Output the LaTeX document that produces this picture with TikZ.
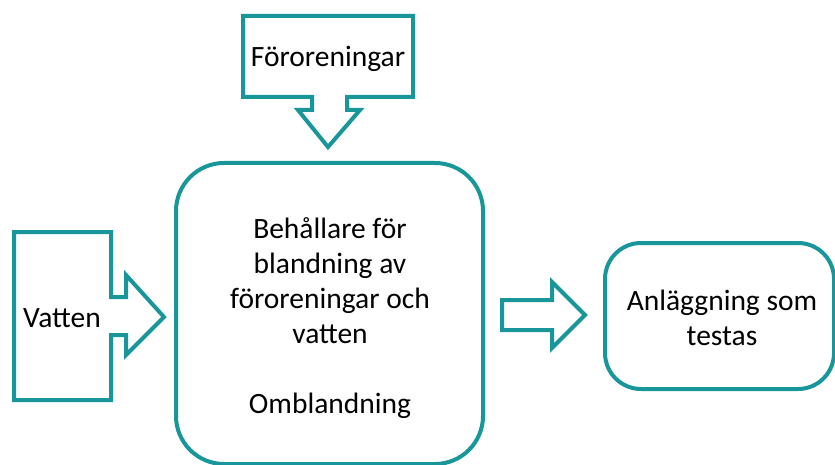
\documentclass[tikz,border=0pt]{standalone}
\usepackage{fontspec}
\setmainfont{Carlito}
\definecolor{teal1}{HTML}{18969A}
\begin{document}
\begin{tikzpicture}[x=1pt,y=-1pt,
  outl/.style={draw=teal1,line width=4pt,line join=miter,fill=white},
  lbl/.style={font=\fontsize{29.5}{35}\selectfont,align=center,text=black,inner sep=0pt},
  roundbox/.style={outl,rounded corners=#1}]
\useasboundingbox (0,0) rectangle (835,465);
\clip (0,0) rectangle (835,465);
% central container
\draw[roundbox=48pt] (176,163) rectangle (483,464);
\node[lbl] (mix) at (330,318) {Behållare för\\blandning av\\föroreningar och\\vatten\\[35pt]Omblandning};
% Vatten callout
\draw[outl] (14,232) -- (111,232) -- (111,297) -- (126,297) -- (126,275) -- (164,317)
  -- (126,355) -- (126,335) -- (111,335) -- (111,400) -- (14,400) -- cycle;
\node[lbl] (vat) at (62,318) {Vatten};
% Föroreningar callout
\draw[outl] (243,16) -- (413,16) -- (413,97) -- (347,97) -- (347,110) -- (360,110)
  -- (328,147) -- (298,110) -- (312,110) -- (312,97) -- (243,97) -- cycle;
\node[lbl] (for) at (328,59) {Föroreningar};
% block arrow
\draw[outl] (502,300) -- (552,300) -- (552,282) -- (585,315) -- (552,348) -- (552,330)
  -- (502,330) -- cycle;
% right box
\draw[roundbox=36pt] (605,243) rectangle (834,389);
\node[lbl] (anl) at (722,318) {Anläggning som\\testas};
\end{tikzpicture}
\end{document}
